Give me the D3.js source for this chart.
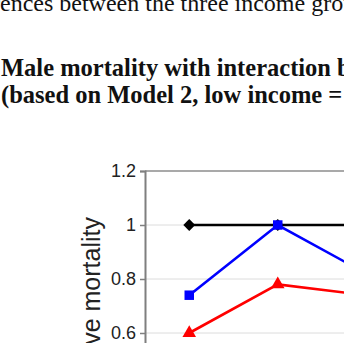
<!DOCTYPE html>
<html>
<head>
<script src="https://d3js.org/d3.v7.min.js"></script>
<style>
    body { margin: 0; background: #fff; }
    svg { display: block; }
</style>
</head>
<body>
<div id="vis"></div>
<script>
    // data
    const categories = ["30-44", "45-59", "60-74"];
    const seriesNames = ["Low income", "Medium income", "High income"];
    const lowIncome = [1, 1, 1];
    const mediumIncome = [0.74, 1.0, 0.82];
    const highIncome = [0.60, 0.78, 0.74];
    const yTicks = [0, 0.2, 0.4, 0.6, 0.8, 1, 1.2];

    const width = 344, height = 343;
    const svg = d3.select("#vis").append("svg").attr("width", width).attr("height", height);
    svg.append("rect").attr("width", width).attr("height", height).attr("fill", "#fff");

    // text from the page above the chart
    const intro = svg.append("text")
        .attr("y", 11)
        .attr("font-family", "Liberation Serif")
        .attr("font-size", 24)
        .attr("fill", "#111")
        .text("differences between the three income groups.");
    intro.attr("x", -intro.node().getSubStringLength(0, 6));

    const title = svg.append("text")
        .attr("font-family", "Liberation Serif")
        .attr("font-weight", "bold")
        .attr("font-size", 24.5)
        .attr("fill", "#111");
    title.append("tspan").attr("x", 1).attr("y", 76).text("Male mortality with interaction between income and age");
    title.append("tspan").attr("x", 1).attr("y", 103).text("(based on Model 2, low income = 1)");

    // chart
    const x = d3.scalePoint().domain(categories).range([145, 145 + 88.5 * categories.length]).padding(0.5);
    const y = d3.scaleLinear().domain([0, 1.2]).range([495, 171]);

    svg.append("g")
        .selectAll("line")
        .data(yTicks.filter(d => d < 1.2))
        .join("line")
        .attr("x1", 145).attr("x2", width + 100)
        .attr("y1", d => y(d)).attr("y2", d => y(d))
        .attr("stroke", "#dcdcdc").attr("stroke-width", 1);

    svg.append("line")
        .attr("x1", 145).attr("x2", width + 100)
        .attr("y1", y(1.2)).attr("y2", y(1.2))
        .attr("stroke", "#8c8c8c").attr("stroke-width", 1.5);

    const yAxis = svg.append("g")
        .attr("transform", "translate(145,0)")
        .call(d3.axisLeft(y).tickValues(yTicks).tickSize(5).tickPadding(4)
            .tickFormat(d => String(+d.toFixed(1))));
    yAxis.select(".domain").attr("stroke", "#7f7f7f").attr("stroke-width", 2);
    yAxis.selectAll(".tick line").attr("stroke", "#7f7f7f").attr("stroke-width", 1.5);
    yAxis.selectAll(".tick text")
        .attr("font-family", "Liberation Sans")
        .attr("font-size", 18)
        .attr("fill", "#222");

    svg.append("text")
        .attr("transform", "translate(100,217) rotate(-90)")
        .attr("text-anchor", "end")
        .attr("font-family", "Liberation Sans")
        .attr("font-size", 25)
        .attr("fill", "#222")
        .text("Relative mortality");

    const series = [
        { name: seriesNames[0], values: lowIncome, color: "#000000", symbol: d3.symbolDiamond2, size: 90 },
        { name: seriesNames[1], values: mediumIncome, color: "#0000ff", symbol: d3.symbolSquare, size: 90 },
        { name: seriesNames[2], values: highIncome, color: "#ff0000", symbol: d3.symbolTriangle, size: 80 }
    ];

    const line = d3.line().x((d, i) => x(categories[i])).y(d => y(d));

    series.forEach(s => {
        const g = svg.append("g");
        g.append("path")
            .attr("d", line(s.values))
            .attr("fill", "none")
            .attr("stroke", s.color)
            .attr("stroke-width", 2.6);
        g.selectAll("path.marker")
            .data(s.values)
            .join("path")
            .attr("class", "marker")
            .attr("transform", (d, i) => `translate(${x(categories[i])},${y(d)})`)
            .attr("d", d3.symbol().type(s.symbol).size(s.size))
            .attr("fill", s.color);
    });
</script>
</body>
</html>
